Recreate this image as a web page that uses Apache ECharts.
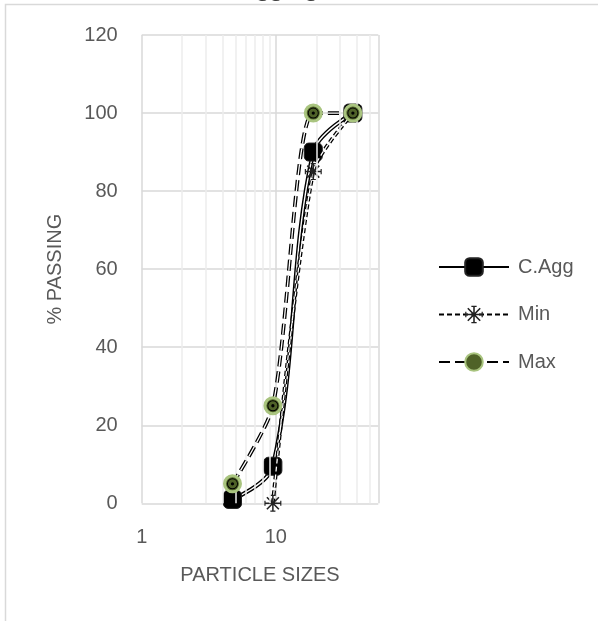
<!DOCTYPE html>
<html>
<head>
<meta charset="utf-8">
<script src="https://cdn.jsdelivr.net/npm/echarts@6/dist/echarts.min.js"></script>
<style>
html,body{margin:0;padding:0;background:#fff;}
#chart{width:598px;height:621px;}
</style>
</head>
<body>
<div id="chart"></div>
<script>
// ---- data ----
var titleText = 'Coarse Aggregate';
var sizes = [4.75, 9.5, 19, 37.5];
var cAgg = [1, 9.5, 90, 100];
var minPass = [null, 0, 85, 100];
var maxPass = [5, 25, 100, 100];
var seriesNames = ['C.Agg', 'Min', 'Max'];
var minorGridX = [2, 3, 4, 5, 6, 7, 8, 9, 20, 30, 40, 50];
var xMin = 1, xMax = 58;
var yMin = 0, yMax = 120, yStep = 20;

function pairs(xs, ys) { return xs.map(function (x, i) { return [x, ys[i] == null ? '-' : ys[i]]; }); }

var FONT = 'Liberation Sans';
var TXT = '#595959';
var ringPath = 'path://M0,-10A10,10,0,1,1,0,10A10,10,0,1,1,0,-10Z' +
  'M0,-8.3A8.3,8.3,0,1,0,0,8.3A8.3,8.3,0,1,0,0,-8.3Z' +
  'M0,-3A3,3,0,1,1,0,3A3,3,0,1,1,0,-3Z';
var starPath = 'path://M-0.9,-10L0.9,-10L0.9,10L-0.9,10Z' +
  'M-10,-0.9L10,-0.9L10,0.9L-10,0.9Z' +
  'M-7.7,-6.4L-6.4,-7.7L7.7,6.4L6.4,7.7Z' +
  'M6.4,-7.7L7.7,-6.4L-6.4,7.7L-7.7,6.4Z' +
  'M-3,-10L3,-10L3,-8.6L-3,-8.6Z M-3,8.6L3,8.6L3,10L-3,10Z' +
  'M-10,-3L-8.6,-3L-8.6,3L-10,3Z M8.6,-3L10,-3L10,3L8.6,3Z';

var chart = echarts.init(document.getElementById('chart'), null, {renderer: 'canvas'});
var option = {
  animation: false,
  backgroundColor: '#fff',
  textStyle: {fontFamily: FONT},
  graphic: [
    {type: 'rect', shape: {x: 5.5, y: 4.5, width: 800, height: 800}, style: {fill: 'none', stroke: '#d9d9d9', lineWidth: 1.5}, z: -10},
    {type: 'text', x: 157, y: -12, style: {text: titleText, font: 'italic 27px "Liberation Serif"', fill: '#404040', verticalAlign: 'middle'}, z: -5}
  ],
  grid: {left: 141.7, right: 219.7, top: 35, bottom: 117.7, containLabel: false},
  legend: {
    data: seriesNames,
    orient: 'vertical',
    left: 438,
    top: 257,
    padding: 0,
    itemWidth: 70,
    itemHeight: 22,
    itemGap: 27.5,
    textStyle: {fontFamily: FONT, fontSize: 20, color: TXT, padding: [0, 0, 0, 4]},
    selectedMode: false
  },
  xAxis: {
    type: 'log',
    logBase: 10,
    min: xMin,
    max: xMax,
    name: 'PARTICLE SIZES',
    nameLocation: 'middle',
    nameGap: 62,
    nameTextStyle: {fontFamily: FONT, fontSize: 20, color: TXT, verticalAlign: 'top'},
    axisLine: {show: false},
    axisTick: {show: false},
    axisLabel: {
      fontFamily: FONT, fontSize: 20, color: TXT, margin: 24,
      formatter: function (v) { var l = Math.log10(v); return Math.abs(l - Math.round(l)) < 1e-6 ? String(Math.round(v)) : ''; }
    },
    splitLine: {show: true, lineStyle: {color: '#d9d9d9', width: 1.5}}
  },
  yAxis: {
    type: 'value',
    min: yMin,
    max: yMax,
    interval: yStep,
    name: '% PASSING',
    nameLocation: 'middle',
    nameRotate: 90,
    nameGap: 76,
    nameTextStyle: {fontFamily: FONT, fontSize: 20, color: TXT},
    axisLine: {show: false},
    axisTick: {show: false},
    axisLabel: {fontFamily: FONT, fontSize: 20, color: TXT, margin: 24},
    splitLine: {show: true, lineStyle: {color: '#d9d9d9', width: 1.5}}
  },
  series: [
    {
      name: 'grid-minor', type: 'line', data: [], silent: true, z: 1,
      markLine: {
        silent: true, symbol: 'none', label: {show: false},
        lineStyle: {color: '#ececec', width: 1.5, type: 'solid'},
        data: minorGridX.map(function (v) { return {xAxis: v}; })
      }
    },
    {
      name: 'C.Agg', type: 'line', data: pairs(sizes, cAgg), smooth: 0.35, z: 3,
      lineStyle: {color: '#000', width: 4.2},
      symbol: 'roundRect', symbolSize: 18,
      itemStyle: {color: '#000', borderColor: '#222', borderWidth: 1}
    },
    {
      name: 'C.Agg-inner', type: 'line', data: pairs(sizes, cAgg), smooth: 0.35, z: 3,
      lineStyle: {color: '#fff', width: 1.4}, symbol: 'none', silent: true
    },
    {
      name: 'Min', type: 'line', data: pairs(sizes, minPass), smooth: 0.25, z: 4,
      lineStyle: {color: '#000', width: 3.8, type: [5, 3]},
      symbol: starPath, symbolSize: 17,
      itemStyle: {color: '#222'}
    },
    {
      name: 'Min-inner', type: 'line', data: pairs(sizes, minPass), smooth: 0.25, z: 4,
      lineStyle: {color: '#fff', width: 1.3, type: [5, 3]}, symbol: 'none', silent: true
    },
    {
      name: 'Max', type: 'line', data: pairs(sizes, maxPass), smooth: 0.25, z: 5,
      lineStyle: {color: '#000', width: 3.8, type: [11, 5]},
      symbol: 'circle', symbolSize: 16,
      itemStyle: {color: '#4f6228', borderColor: '#a9c47f', borderWidth: 3}
    },
    {
      name: 'Max-inner', type: 'line', data: pairs(sizes, maxPass), smooth: 0.25, z: 5,
      lineStyle: {color: '#fff', width: 1.3, type: [11, 5]},
      symbol: ringPath, symbolSize: 11, itemStyle: {color: '#000'}, silent: true
    }
  ]
};
chart.setOption(option);
</script>
</body>
</html>
